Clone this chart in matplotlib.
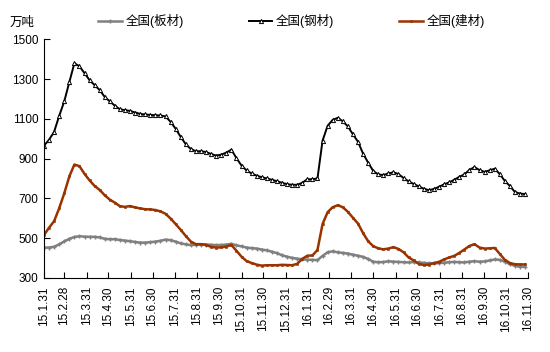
import numpy as np
import pandas as pd
import matplotlib
matplotlib.use("Agg")
import matplotlib.pyplot as plt
from datetime import datetime

plt.rcParams['font.family'] = ['Liberation Sans', 'Noto Sans CJK SC', 'DejaVu Sans']

# ––––– weekly inventory, 万吨
weeks = pd.date_range("2015-01-31", periods=96, freq="7D")

steel = [965, 995, 1035, 1115, 1188, 1285, 1380, 1365, 1330, 1295,
         1270, 1245, 1210, 1188, 1166, 1148, 1144, 1140, 1132, 1125,
         1122, 1120, 1118, 1117, 1112, 1085, 1050, 1009, 972, 948,
         937, 937, 933, 923, 915, 920, 930, 945, 902, 865,
         840, 825, 814, 806, 800, 793, 786, 778, 771, 768,
         768, 778, 796, 796, 800, 990, 1065, 1095, 1105, 1088,
         1062, 1022, 985, 925, 880, 838, 820, 817, 825, 831,
         822, 802, 785, 772, 760, 748, 741, 747, 758, 770,
         780, 793, 808, 820, 843, 857, 842, 833, 841, 849,
         822, 787, 762, 731, 724, 721]

rebar = [515, 552, 585, 650, 725, 810, 870, 862, 823, 790,
         762, 742, 715, 693, 678, 660, 657, 661, 654, 649,
         645, 644, 641, 634, 622, 598, 570, 541, 510, 482,
         469, 469, 466, 455, 452, 453, 457, 465, 436, 406,
         384, 374, 366, 361, 363, 363, 363, 365, 364, 363,
         370, 395, 411, 412, 440, 570, 630, 655, 665, 655,
         632, 602, 573, 525, 484, 459, 448, 443, 447, 454,
         445, 428, 402, 387, 370, 364, 366, 374, 380, 392,
         402, 410, 425, 442, 460, 469, 452, 447, 448, 450,
         420, 390, 374, 368, 367, 367]

plate = [452, 452, 456, 468, 483, 496, 505, 509, 507, 506,
         506, 503, 496, 494, 494, 490, 487, 484, 480, 477,
         477, 479, 482, 486, 492, 489, 482, 473, 468, 464,
         466, 467, 467, 466, 464, 465, 467, 471, 463, 458,
         452, 449, 447, 442, 438, 431, 424, 413, 406, 400,
         396, 393, 391, 390, 389, 410, 428, 433, 428, 425,
         422, 416, 411, 405, 395, 381, 378, 379, 383, 381,
         380, 378, 377, 379, 377, 375, 373, 372, 374, 376,
         378, 380, 378, 377, 381, 383, 381, 382, 387, 392,
         390, 381, 368, 360, 355, 355]

tick_labels = ["15.1.31", "15.2.28", "15.3.31", "15.4.30", "15.5.31", "15.6.30",
               "15.7.31", "15.8.31", "15.9.30", "15.10.31", "15.11.30", "15.12.31",
               "16.1.31", "16.2.29", "16.3.31", "16.4.30", "16.5.31", "16.6.30",
               "16.7.31", "16.8.31", "16.9.30", "16.10.31", "16.11.30"]
tick_dates = [datetime.strptime("20" + t, "%Y.%m.%d") for t in tick_labels]

fig = plt.figure(figsize=(5.5, 3.52), dpi=100)
ax = fig.add_axes([0.08, 0.211, 0.88, 0.677])

ax.plot(weeks, plate, color="#808080", lw=1.8, marker="+", ms=3, mew=1.0,
        label="全国(板材)")
ax.plot(weeks, steel, color="black", lw=1.4, marker="^", ms=3, mew=0.7,
        mfc="white", mec="black", label="全国(钢材)")
ax.plot(weeks, rebar, color="#993300", lw=1.8, marker="s", ms=1.8, mew=0.4,
        label="全国(建材)")

ax.set_ylim(300, 1500)
ax.set_yticks(range(300, 1501, 200))
ax.set_xlim(tick_dates[0], tick_dates[-1])
ax.set_xticks(tick_dates)
ax.set_xticklabels(tick_labels, rotation=90)
ax.tick_params(direction="in", length=4, labelsize=8.5, pad=4)
ax.tick_params(axis="x", pad=6)
for s in ["top", "right"]:
    ax.spines[s].set_visible(False)

fig.text(0.018, 0.935, "万吨", fontsize=9, ha="left", va="center")
fig.legend(loc="center", bbox_to_anchor=(0.53, 0.94), ncol=3, frameon=False,
           fontsize=9, handlelength=1.9, columnspacing=5.2, handletextpad=0.3)

plt.savefig("out.png", dpi=100)
